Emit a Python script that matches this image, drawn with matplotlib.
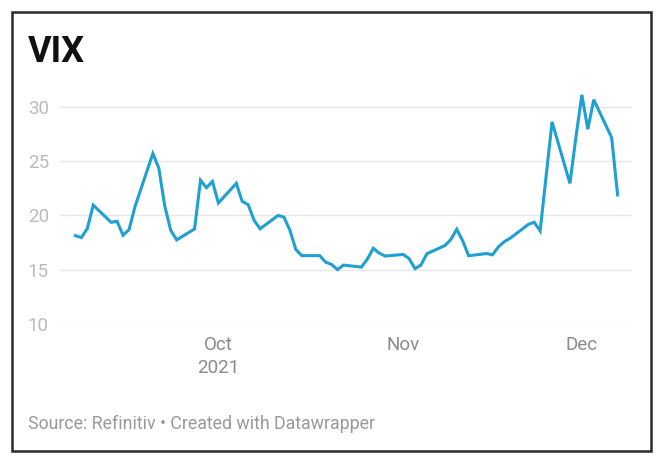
import datetime as dt
import matplotlib
matplotlib.use("Agg")
import matplotlib.pyplot as plt
import matplotlib.dates as mdates
from matplotlib.patches import Rectangle

# VIX daily close, Sep 7 - Dec 7 2021
dates = [
    "2021-09-07", "2021-09-08", "2021-09-09", "2021-09-10",
    "2021-09-13", "2021-09-14", "2021-09-15", "2021-09-16", "2021-09-17",
    "2021-09-20", "2021-09-21", "2021-09-22", "2021-09-23", "2021-09-24",
    "2021-09-27", "2021-09-28", "2021-09-29", "2021-09-30", "2021-10-01",
    "2021-10-04", "2021-10-05", "2021-10-06", "2021-10-07", "2021-10-08",
    "2021-10-11", "2021-10-12", "2021-10-13", "2021-10-14", "2021-10-15",
    "2021-10-18", "2021-10-19", "2021-10-20", "2021-10-21", "2021-10-22",
    "2021-10-25", "2021-10-26", "2021-10-27", "2021-10-28", "2021-10-29",
    "2021-11-01", "2021-11-02", "2021-11-03", "2021-11-04", "2021-11-05",
    "2021-11-08", "2021-11-09", "2021-11-10", "2021-11-11", "2021-11-12",
    "2021-11-15", "2021-11-16", "2021-11-17", "2021-11-18", "2021-11-19",
    "2021-11-22", "2021-11-23", "2021-11-24", "2021-11-26",
    "2021-11-29", "2021-11-30", "2021-12-01", "2021-12-02", "2021-12-03",
    "2021-12-06", "2021-12-07",
]
vix = [
    18.14, 17.96, 18.80, 20.95,
    19.37, 19.46, 18.18, 18.69, 20.81,
    25.71, 24.36, 20.87, 18.63, 17.75,
    18.76, 23.25, 22.56, 23.14, 21.15,
    22.96, 21.30, 21.00, 19.54, 18.77,
    20.00, 19.85, 18.64, 16.86, 16.30,
    16.30, 15.70, 15.49, 15.01, 15.43,
    15.24, 15.98, 16.98, 16.53, 16.26,
    16.41, 16.03, 15.10, 15.44, 16.48,
    17.22, 17.78, 18.73, 17.66, 16.29,
    16.49, 16.37, 17.11, 17.59, 17.91,
    19.17, 19.38, 18.58, 28.62,
    22.96, 27.19, 31.12, 27.95, 30.67,
    27.18, 21.89,
]
y_ticks = [10, 15, 20, 25, 30]
x_ticks = ["2021-10-01", "2021-11-01", "2021-12-01"]
x_labels = ["Oct\n2021", "Nov", "Dec"]

X = [dt.datetime.strptime(d, "%Y-%m-%d") for d in dates]
W, H = 671, 469

fig = plt.figure(figsize=(W / 100, H / 100), dpi=100)
fig.patch.set_facecolor("white")

# plot area in pixels: x 60..632, y 89.6..324
ax = fig.add_axes([60 / W, 1 - 324 / H, (632 - 60) / W, (324 - 89.6) / H])
ax.plot(X, vix, color="#1fa0d2", lw=2.2, solid_joinstyle="miter", clip_on=False, zorder=3)

ax.set_ylim(10, 31.6)
ax.set_xlim(dt.datetime(2021, 9, 4, 10), dt.datetime(2021, 12, 9, 10))
ax.set_yticks(y_ticks)
ax.set_xticks([dt.datetime.strptime(d, "%Y-%m-%d") for d in x_ticks])
ax.set_xticklabels(x_labels, linespacing=1.4)

for s in ax.spines.values():
    s.set_visible(False)
ax.grid(axis="y", color="#e6e6e6", lw=1)
ax.grid(axis="x", visible=False)
ax.set_axisbelow(True)
ax.tick_params(axis="y", length=0, pad=8, labelsize=13.5, labelcolor="#bbbbbb")
ax.tick_params(axis="x", length=0, pad=8.5, labelsize=13.5, labelcolor="#8a8a8a")
for t in ax.get_xticklabels() + ax.get_yticklabels():
    t.set_fontfamily("Roboto")

fig.text(28 / W, 1 - 62 / H, "VIX", fontsize=26, fontweight="bold",
         family="Roboto", color="#111111", va="baseline", ha="left")
fig.text(28 / W, 1 - 429 / H, "Source: Refinitiv \u2022 Created with Datawrapper",
         fontsize=12.8, family="Roboto", color="#999999", va="baseline", ha="left")

# outer frame
fig.patches.append(Rectangle((11.5 / W, 1 - 451 / H), (651 - 11.5) / W, (451 - 12.5) / H,
                             transform=fig.transFigure, fill=False,
                             edgecolor="#2b2b2b", lw=1.8))

fig.savefig("out.png", dpi=100)
